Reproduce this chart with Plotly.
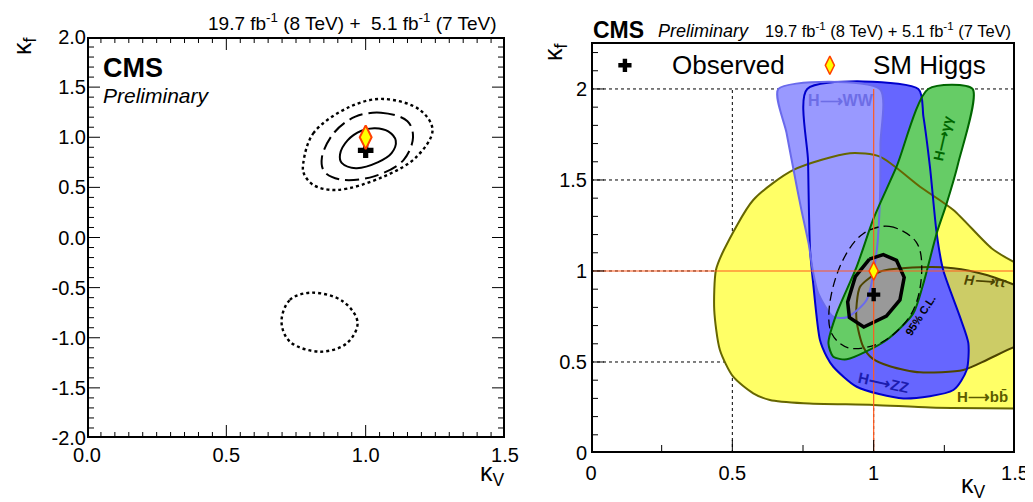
import numpy as np
import plotly.graph_objects as go

# the page body adds an 8 px margin around the figure
OFF = 8
W, H = 1033 - OFF, 502 - OFF

# ---------------- data ----------------
OBS = (1.0, 0.87)      # best fit (kV, kf)
SM = (1.0, 1.0)        # SM expectation

# combined likelihood contours (kV, kf)
C68_KV = [0.985, 1.034, 1.081, 1.108, 1.093, 1.045, 0.965, 0.914, 0.908, 0.935]
C68_KF = [1.065, 1.090, 1.058, 0.965, 0.841, 0.752, 0.692, 0.745, 0.830, 0.969]
C95_KV = [0.963, 1.055, 1.150, 1.170, 1.135, 1.030, 0.910, 0.852, 0.843, 0.888]
C95_KF = [1.205, 1.245, 1.160, 1.000, 0.770, 0.610, 0.578, 0.655, 0.800, 1.050]
C99_KV = [0.776, 0.812, 0.944, 1.063, 1.195, 1.240, 1.183, 1.063, 0.896, 0.812, 0.778]
C99_KF = [0.740, 1.039, 1.305, 1.382, 1.272, 1.072, 0.806, 0.606, 0.474, 0.524, 0.640]
C99B_KV = [0.698, 0.728, 0.806, 0.920, 0.971, 0.932, 0.836, 0.728]
C99B_KF = [-0.840, -0.623, -0.550, -0.640, -0.850, -1.056, -1.139, -1.039]

# per-channel 68% regions (right panel)
BB_KV = [0.442, 0.470, 0.574, 0.716, 0.916, 1.022, 1.164, 1.282, 1.417, 1.494, 1.62, 1.62, 1.50, 1.20, 1.00, 0.752, 0.633, 0.574, 0.503, 0.456, 0.436]
BB_KF = [1.005, 1.115, 1.390, 1.555, 1.647, 1.628, 1.463, 1.335, 1.125, 1.051, 0.96, 0.245, 0.245, 0.250, 0.264, 0.273, 0.291, 0.328, 0.419, 0.566, 0.786]
TT_KV = [0.940, 0.952, 1.022, 1.164, 1.282, 1.400, 1.500, 1.62, 1.62, 1.500, 1.400, 1.317, 1.164, 1.060, 0.995, 0.963, 0.940]
TT_KF = [0.820, 0.914, 0.996, 1.020, 1.015, 0.978, 0.923, 0.85, 0.63, 0.584, 0.511, 0.456, 0.443, 0.475, 0.520, 0.584, 0.720]
ZZ_KV = [0.765, 0.768, 0.775, 0.786, 0.810, 0.834, 0.857, 0.940, 1.105, 1.282, 1.329, 1.335, 1.305, 1.246, 1.223, 1.199, 1.176, 1.158]
ZZ_KF = [2.000, 1.600, 1.115, 0.932, 0.621, 0.529, 0.474, 0.364, 0.300, 0.346, 0.456, 0.603, 0.749, 1.005, 1.207, 1.573, 1.848, 2.000]
WW_KV = [0.663, 0.692, 0.728, 0.745, 0.770, 0.785, 0.804, 0.857, 0.905, 0.975, 1.011, 1.022, 1.024, 1.022]
WW_KF = [2.000, 1.757, 1.463, 1.330, 1.150, 1.000, 0.877, 0.749, 0.746, 0.841, 1.115, 1.390, 1.700, 2.000]
GG_KV = [1.193, 1.081, 1.000, 0.940, 0.869, 0.840, 0.857, 0.905, 1.046, 1.140, 1.176, 1.223, 1.258, 1.299, 1.350]
GG_KF = [2.000, 1.573, 1.290, 1.024, 0.767, 0.603, 0.529, 0.515, 0.621, 0.767, 0.932, 1.207, 1.370, 1.592, 2.000]

# tick labels
L_XTICKS = [0.0, 0.5, 1.0, 1.5]
L_XTEXT = ["0.0", "0.5", "1.0", "1.5"]
L_YTICKS = [-2.0, -1.5, -1.0, -0.5, 0.0, 0.5, 1.0, 1.5, 2.0]
L_YTEXT = ["-2.0", "-1.5", "-1.0", "-0.5", "0.0", "0.5", "1.0", "1.5", "2.0"]
R_XTICKS = [0, 0.5, 1, 1.5]
R_XTEXT = ["0", "0.5", "1", "1.5"]
R_YTICKS = [0, 0.5, 1, 1.5, 2]
R_YTEXT = ["0", "0.5", "1", "1.5", "2"]
GRID_X = [0.5, 1.0]
GRID_Y = [0.5, 1.0, 1.5, 2.0]
KF_TOP = 2.0   # channel regions drawn up to here

L_XR, L_YR = (0.0, 1.5), (-2.0, 2.0)
R_XR, R_YR = (0.0, 1.5), (0.0, 2.258)

# plot-area boxes in page pixels (left, top, right, bottom)
L_BOX = (87, 37, 505, 438)
R_BOX = (591, 42, 1015, 453)

FONT = "Liberation Sans, Arial, Helvetica, sans-serif"


def closed(xs, ys):
    return list(xs) + [xs[0]], list(ys) + [ys[0]]


fig = go.Figure()

# ---------------- left panel ----------------
for kv, kf, dash, w in [(C99_KV, C99_KF, "dot", 2.4), (C99B_KV, C99B_KF, "dot", 2.4),
                        (C95_KV, C95_KF, "14px,6px", 2.0), (C68_KV, C68_KF, "solid", 2.0)]:
    x, y = closed(kv, kf)
    fig.add_trace(go.Scatter(x=x, y=y, mode="lines", xaxis="x", yaxis="y",
                             line=dict(color="black", width=w, dash=dash, shape="spline", smoothing=1.0),
                             fill="toself", fillcolor="rgba(0,0,0,0)", hoverinfo="skip", showlegend=False))

fig.add_trace(go.Scatter(x=[OBS[0]], y=[OBS[1]], mode="markers", xaxis="x", yaxis="y",
                         marker=dict(symbol="cross", size=13, color="black"), showlegend=False))
fig.add_trace(go.Scatter(x=[SM[0]], y=[SM[1]], mode="markers", xaxis="x", yaxis="y",
                         marker=dict(symbol="diamond-tall", size=17, color="#ffff00",
                                     line=dict(color="#ff4000", width=2)), showlegend=False))

# ---------------- right panel ----------------
regions = [
    (BB_KV, BB_KF, "#ffff66", "#666600"),
    (TT_KV, TT_KF, "#cccc66", "#4d4400"),
    (ZZ_KV, ZZ_KF, "#6666ff", "#0000cc"),
    (WW_KV, WW_KF, "#9999ff", "#6a6aec"),
    (GG_KV, GG_KF, "#66cc66", "#006600"),
    (C68_KV, C68_KF, "#999999", None),
]
for kv, kf, fc, lc in regions:
    x, y = closed(kv, kf)
    fig.add_trace(go.Scatter(x=x, y=y, mode="lines", xaxis="x2", yaxis="y2",
                             line=dict(width=0, shape="spline", smoothing=0.7),
                             fill="toself", fillcolor=fc, hoverinfo="skip", showlegend=False))
for kv, kf, fc, lc in regions:
    if lc is None:
        continue
    x, y = closed(kv, kf)
    fig.add_trace(go.Scatter(x=x, y=y, mode="lines", xaxis="x2", yaxis="y2",
                             line=dict(width=2, color=lc, shape="spline", smoothing=0.7),
                             hoverinfo="skip", showlegend=False))

x, y = closed(C95_KV, C95_KF)
fig.add_trace(go.Scatter(x=x, y=y, mode="lines", xaxis="x2", yaxis="y2",
                         line=dict(width=1.3, color="black", dash="9px,5px", shape="spline", smoothing=1.0),
                         hoverinfo="skip", showlegend=False))
x, y = closed(C68_KV, C68_KF)
fig.add_trace(go.Scatter(x=x, y=y, mode="lines", xaxis="x2", yaxis="y2",
                         line=dict(width=3.5, color="black"),
                         hoverinfo="skip", showlegend=False))

# SM reference lines
fig.add_trace(go.Scatter(x=[SM[0], SM[0]], y=[0, KF_TOP], mode="lines", xaxis="x2", yaxis="y2",
                         line=dict(color="#ff5a1e", width=1.2), hoverinfo="skip", showlegend=False))
fig.add_trace(go.Scatter(x=list(R_XR), y=[SM[1], SM[1]], mode="lines", xaxis="x2", yaxis="y2",
                         line=dict(color="#ff5a1e", width=1.2), hoverinfo="skip", showlegend=False))

fig.add_trace(go.Scatter(x=[OBS[0]], y=[OBS[1]], mode="markers", xaxis="x2", yaxis="y2",
                         marker=dict(symbol="cross", size=11, color="black"), showlegend=False))
fig.add_trace(go.Scatter(x=[SM[0]], y=[SM[1]], mode="markers", xaxis="x2", yaxis="y2",
                         marker=dict(symbol="diamond-tall", size=13, color="#ffff00",
                                     line=dict(color="#ff4000", width=1.5)), showlegend=False))

# legend symbols (layout positions)
fig.add_trace(go.Scatter(x=[0.12], y=[2.13], mode="markers", xaxis="x2", yaxis="y2",
                         marker=dict(symbol="cross", size=11, color="black"), showlegend=False))
fig.add_trace(go.Scatter(x=[0.845], y=[2.13], mode="markers", xaxis="x2", yaxis="y2",
                         marker=dict(symbol="diamond-tall", size=13, color="#ffff00",
                                     line=dict(color="#ff4000", width=1.5)), showlegend=False))


# ---------------- frames and tick marks (drawn as line traces) ----------------
def is_major(v, step=0.5):
    return abs(v / step - round(v / step)) < 1e-6


def frame_and_ticks(xa, ya, xr, yr, box, xminor, yminor, all_sides):
    sx = (xr[1] - xr[0]) / (box[2] - box[0])   # data units per pixel
    sy = (yr[1] - yr[0]) / (box[3] - box[1])
    tx, ty = [], []
    for v in np.arange(xr[0] + xminor, xr[1] - 1e-9, xminor):
        v = float(v)
        L = (13 if is_major(v) else (8 if xminor > 0.1 else 6)) * sy
        tx += [v, v, None]
        ty += [yr[0], yr[0] + L, None]
        if all_sides:
            tx += [v, v, None]
            ty += [yr[1], yr[1] - L, None]
    for v in np.arange(yr[0] + yminor, yr[1] - 1e-9, yminor):
        v = float(v)
        L = (13 if is_major(v) else 7) * sx
        tx += [xr[0], xr[0] + L, None]
        ty += [v, v, None]
        if all_sides:
            tx += [xr[1], xr[1] - L, None]
            ty += [v, v, None]
    fig.add_trace(go.Scatter(x=tx, y=ty, mode="lines", xaxis=xa, yaxis=ya,
                             line=dict(color="black", width=1), hoverinfo="skip", showlegend=False))
    fig.add_trace(go.Scatter(x=[xr[0], xr[1], xr[1], xr[0], xr[0]], y=[yr[0], yr[0], yr[1], yr[1], yr[0]],
                             mode="lines", xaxis=xa, yaxis=ya,
                             line=dict(color="black", width=4), hoverinfo="skip", showlegend=False))


frame_and_ticks("x", "y", L_XR, L_YR, L_BOX, 0.05, 0.1, True)
frame_and_ticks("x2", "y2", R_XR, R_YR, R_BOX, 0.25, 0.1, False)

# ---------------- shapes: grid ----------------
shapes = []
for gx in GRID_X:
    shapes.append(dict(type="line", xref="x2", yref="y2", x0=gx, x1=gx, y0=0, y1=KF_TOP,
                       line=dict(color="black", width=1, dash="dot"), layer="below"))
for gy in GRID_Y:
    shapes.append(dict(type="line", xref="x2", yref="y2", x0=R_XR[0], x1=R_XR[1], y0=gy, y1=gy,
                       line=dict(color="black", width=1, dash="dot"), layer="below"))


def px(X):
    return (X - OFF) / W


def py(Y):
    return 1 - (Y - OFF) / H


tickfont = dict(family=FONT, size=20, color="black")
ax_common = dict(showline=False, showgrid=False, zeroline=False, ticks="",
                 tickfont=tickfont, tickmode="array", automargin=False)

fig.update_layout(
    width=W, height=H, margin=dict(l=0, r=0, t=0, b=0, pad=0, autoexpand=False),
    paper_bgcolor="white", plot_bgcolor="white", showlegend=False,
    font=dict(family=FONT),
    xaxis=dict(ax_common, domain=[px(L_BOX[0]), px(L_BOX[2])], range=list(L_XR), anchor="y",
               tickvals=L_XTICKS, ticktext=L_XTEXT, ticklabelstandoff=3),
    yaxis=dict(ax_common, domain=[py(L_BOX[3]), py(L_BOX[1])], range=list(L_YR), anchor="x",
               tickvals=L_YTICKS, ticktext=L_YTEXT),
    xaxis2=dict(ax_common, domain=[px(R_BOX[0]), px(R_BOX[2])], range=list(R_XR), anchor="y2",
                tickvals=R_XTICKS, ticktext=R_XTEXT, ticklabelstandoff=6),
    yaxis2=dict(ax_common, domain=[py(R_BOX[3]), py(R_BOX[1])], range=list(R_YR), anchor="x2",
                tickvals=R_YTICKS, ticktext=R_YTEXT, ticklabelstandoff=3),
    shapes=shapes,
)


def ann(text, X, Y, size, xanchor="center", yanchor="middle", angle=0, color="black", ref="paper", **kw):
    d = dict(text=text, showarrow=False, font=dict(family=FONT, size=size, color=color),
             xanchor=xanchor, yanchor=yanchor, textangle=angle)
    if ref == "paper":
        d.update(x=px(X), y=py(Y), xref="paper", yref="paper")
    else:
        d.update(x=X, y=Y, xref="x2", yref="y2")
    d.update(kw)
    fig.add_annotation(**d)


# left panel texts
ann("19.7 fb<sup>-1</sup> (8 TeV) +  5.1 fb<sup>-1</sup> (7 TeV)", 499, 22, 19, xanchor="right")
ann("<b>CMS</b>", 101, 68, 27, xanchor="left")
ann("<i>Preliminary</i>", 101, 95, 21, xanchor="left")
ann("κ<sub>V</sub>", 492, 474, 25)
ann("κ<sub>f</sub>", 24, 46, 25, angle=-90)

# right panel texts
ann("<b>CMS</b>", 591, 30, 23, xanchor="left")
ann("<i>Preliminary</i>", 656, 31, 18, xanchor="left")
ann("19.7 fb<sup>-1</sup> (8 TeV) + 5.1 fb<sup>-1</sup> (7 TeV)", 1013, 30, 16.5, xanchor="right")
ann("κ<sub>V</sub>", 973, 486, 25)
ann("κ<sub>f</sub>", 555, 52, 25, angle=-90)
ann("Observed", 670, 65, 26, xanchor="left")
ann("SM Higgs", 871, 65, 26, xanchor="left")

ann("<b>H⟶WW</b>", 0.885, 1.935, 16, color="#6d6de6", ref="data")
ann("<b>H⟶γγ</b>", 1.246, 1.73, 14, color="#006600", angle=-77, ref="data")
ann("<b>H⟶ZZ</b>", 1.035, 0.39, 15, color="#1c1cae", angle=12, ref="data")
ann("<b><i>H⟶ττ</i></b>", 1.395, 0.945, 14, color="#4d4400", angle=4, ref="data")
ann("<b>H⟶bb̄</b>", 1.385, 0.31, 15, color="#5c5c00", ref="data")
ann("<b>95% C.L.</b>", 1.165, 0.76, 11, angle=-57, ref="data")

fig.write_html("out.html")
